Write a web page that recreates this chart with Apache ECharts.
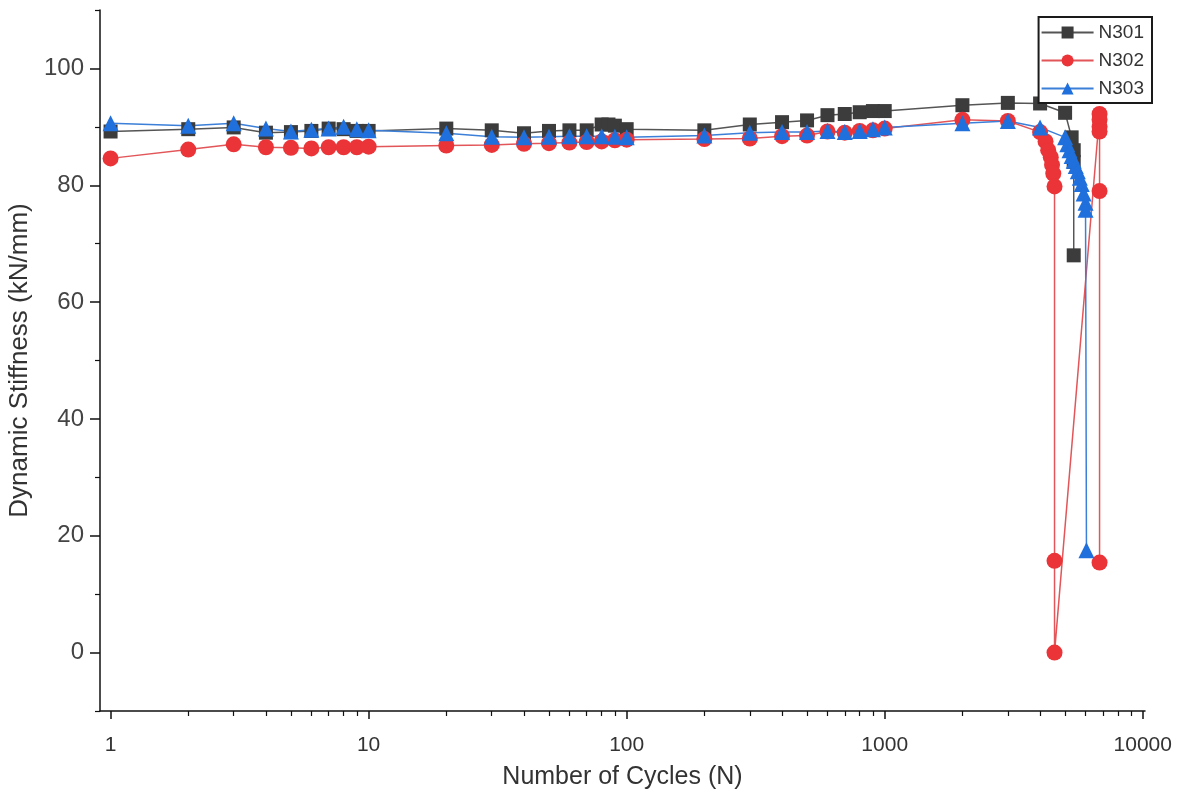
<!DOCTYPE html>
<html>
<head>
<meta charset="utf-8">
<script src="https://cdn.jsdelivr.net/npm/echarts@6/dist/echarts.min.js"></script>
<style>
html,body{margin:0;padding:0;background:#fff;}
#chart{width:1181px;height:796px;}
</style>
</head>
<body>
<div id="chart"></div>
<script>
// ---- data ----
const cycles301 = [1,2,3,4,5,6,7,8,9,10,20,30,40,50,60,70,80,85,90,100,200,300,400,500,600,700,800,900,1000,2000,3000,4000,5000,5300,5400,5400,5400];
const stiff301  = [89.2,89.6,89.9,89.0,89.1,89.3,89.7,89.6,89.3,89.3,89.7,89.4,88.9,89.3,89.4,89.4,90.4,90.4,90.2,89.6,89.4,90.4,90.8,91.1,92.0,92.2,92.5,92.7,92.7,93.7,94.1,94.0,92.4,88.2,86.0,84.0,68.0];

const cycles302 = [1,2,3,4,5,6,7,8,9,10,20,30,40,50,60,70,80,90,100,200,300,400,500,600,700,800,900,1000,2000,3000,4000,4200,4300,4400,4450,4500,4550,4550,4550,6800,6800,6800,6800,6800,6800];
const stiff302  = [84.6,86.1,87.0,86.5,86.4,86.3,86.5,86.5,86.5,86.6,86.8,86.9,87.1,87.2,87.3,87.4,87.5,87.7,87.8,87.9,88.0,88.4,88.5,89.2,89.0,89.3,89.4,89.7,91.2,91.0,89.1,87.5,86.0,84.8,83.5,82.0,79.8,15.7,0.0,92.2,91.2,90.0,89.2,79.0,15.4];

const cycles303 = [1,2,3,4,5,6,7,8,9,10,20,30,40,50,60,70,80,90,100,200,300,400,500,600,700,800,900,1000,2000,3000,4000,5000,5100,5200,5300,5400,5500,5600,5700,5800,5900,6000,6000,6050];
const stiff303  = [90.6,90.2,90.6,89.7,89.2,89.5,89.7,90.0,89.6,89.4,88.9,88.3,88.2,88.3,88.4,88.4,88.4,88.3,88.2,88.5,89.0,89.1,89.1,89.3,89.1,89.3,89.6,89.9,90.6,91.0,89.9,88.2,87.0,86.0,85.0,84.2,83.3,82.4,81.3,80.2,78.6,77.0,75.8,17.5];

const xMajorTicks = [1,10,100,1000,10000];
const xMinorTicks = [2,3,4,5,6,7,8,9,20,30,40,50,60,70,80,90,200,300,400,500,600,700,800,900,2000,3000,4000,5000,6000,7000,8000,9000];
const yMajorTicks = [0,20,40,60,80,100];
const yMinorTicks = [-10,10,30,50,70,90,110];

const seriesNames = ['N301','N302','N303'];

function zip(xs, ys){ return xs.map((x,i)=>[x, ys[i]]); }

const chart = echarts.init(document.getElementById('chart'), null, {renderer:'canvas'});
const X_MIN = 0.91, X_MAX = 10200, Y_MIN = -10, Y_MAX = 110;
const sans = "'Liberation Sans',Arial,sans-serif";

chart.setOption({
  animation:false,
  backgroundColor:'#ffffff',
  grid:{left:100, top:10, right:36, bottom:85, containLabel:false, outerBoundsMode:'none'},
  legend:{
    orient:'vertical', right:29, top:17,
    data:seriesNames,
    backgroundColor:'#fff',
    borderColor:'#1a1a1a', borderWidth:2, borderRadius:0,
    padding:[6,8,5,2], itemGap:9, itemWidth:52, itemHeight:15,
    textStyle:{fontFamily:sans, fontSize:19, color:'#333'}
  },
  xAxis:[{
    type:'log', min:X_MIN, max:X_MAX, logBase:10,
    name:'Number of Cycles (N)', nameLocation:'middle', nameGap:54,
    nameTextStyle:{fontFamily:sans, fontSize:25, color:'#333'},
    axisLine:{show:true, onZero:false, lineStyle:{color:'#111', width:1.5}},
    axisTick:{show:true, inside:false, length:8, customValues:xMajorTicks, lineStyle:{color:'#111', width:1.5}},
    axisLabel:{show:true, margin:24, customValues:xMajorTicks, formatter:v=>String(Math.round(v)), fontFamily:sans, fontSize:21, color:'#333'},
    splitLine:{show:false}, minorTick:{show:false}, minorSplitLine:{show:false}
  },{
    type:'log', min:X_MIN, max:X_MAX, logBase:10, position:'bottom',
    axisLine:{show:false, onZero:false},
    axisTick:{show:true, inside:false, length:5, customValues:xMinorTicks, lineStyle:{color:'#111', width:1.2}},
    axisLabel:{show:false}, splitLine:{show:false}
  }],
  yAxis:[{
    type:'value', min:Y_MIN, max:Y_MAX, position:'left',
    name:'Dynamic Stiffness (kN/mm)', nameLocation:'middle', nameGap:64,
    nameTextStyle:{fontFamily:sans, fontSize:26, color:'#333'},
    axisLine:{show:true, onZero:false, lineStyle:{color:'#111', width:1.5}},
    axisTick:{show:true, inside:false, length:10, customValues:yMajorTicks, lineStyle:{color:'#111', width:1.5}},
    axisLabel:{show:true, margin:16, customValues:yMajorTicks, fontFamily:sans, fontSize:24, color:'#444'},
    splitLine:{show:false}
  },{
    type:'value', min:Y_MIN, max:Y_MAX, position:'left',
    axisLine:{show:false, onZero:false},
    axisTick:{show:true, inside:false, length:5, customValues:yMinorTicks, lineStyle:{color:'#111', width:1.2}},
    axisLabel:{show:false}, splitLine:{show:false}
  }],
  series:[{
    name:'N301', type:'line', xAxisIndex:0, yAxisIndex:0,
    data:zip(cycles301, stiff301),
    symbol:'rect', symbolSize:14,
    itemStyle:{color:'#3c3c3c'},
    lineStyle:{color:'#555555', width:1.5}
  },{
    name:'N302', type:'line', xAxisIndex:0, yAxisIndex:0,
    data:zip(cycles302, stiff302),
    symbol:'circle', symbolSize:16,
    itemStyle:{color:'#ea3438'},
    lineStyle:{color:'#e25558', width:1.5}
  },{
    name:'N303', type:'line', xAxisIndex:0, yAxisIndex:0,
    data:zip(cycles303, stiff303),
    symbol:'triangle', symbolSize:16,
    itemStyle:{color:'#1f6fdc'},
    lineStyle:{color:'#3b7fd8', width:1.5}
  }]
});
</script>
</body>
</html>
